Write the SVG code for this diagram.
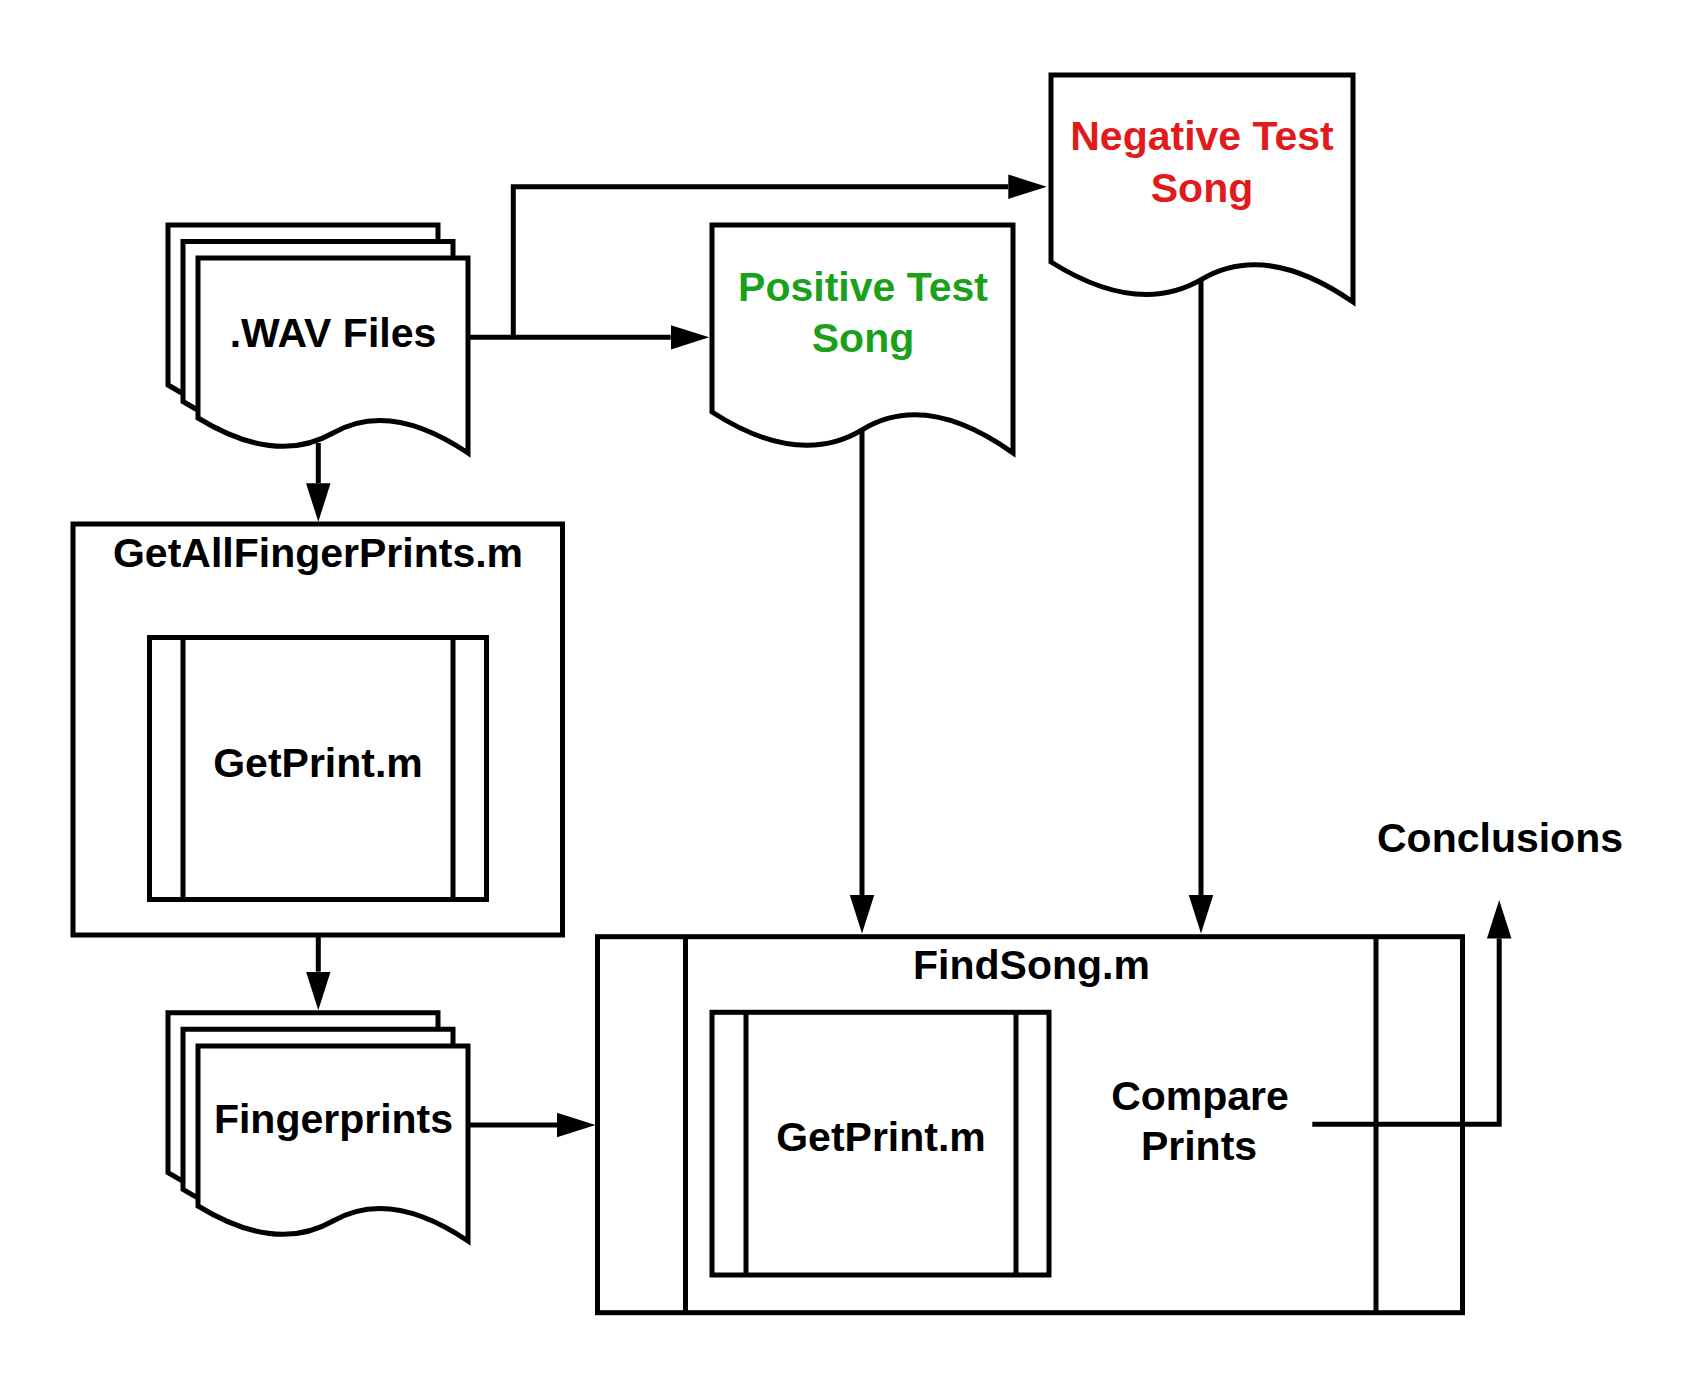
<svg xmlns="http://www.w3.org/2000/svg" width="1688" height="1388" viewBox="0 0 1688 1388">
<style>
.s{fill:#fff;stroke:#000;stroke-width:5;stroke-linejoin:miter}
.l{fill:none;stroke:#000;stroke-width:5}
.c{fill:none;stroke:#000;stroke-width:5;marker-end:url(#ah)}
text{font-family:"Liberation Sans",Arial,sans-serif;font-weight:bold;font-size:41px;text-anchor:middle;fill:#000}
</style>
<defs>
<marker id="ah" markerUnits="userSpaceOnUse" markerWidth="39" markerHeight="25" refX="0" refY="12.25" orient="auto" viewBox="0 0 39 24.5">
<path d="M0,0 L38.5,12.25 L0,24.5 Z" fill="#000"/>
</marker>
<path id="doc" d="M0,0 H270 V195 Q192,142.2 135,175 T0,160 Z"/>
</defs>
<rect width="1688" height="1388" fill="#fff"/>

<g id="wav-files">
<use href="#doc" class="s" x="168" y="225"/>
<use href="#doc" class="s" x="183" y="241.5"/>
<use href="#doc" class="s" x="198" y="258"/>
<text x="333" y="347">.WAV Files</text>
</g>

<g id="positive-test-song">
<path class="s" d="M712,225 H1013 V453 Q926,391.1 862.5,429.6 T712,412 Z"/>
<text x="863" y="301" fill="#1BA01B" style="fill:#1BA01B">Positive Test</text>
<text x="863" y="351.5" style="fill:#1BA01B">Song</text>
</g>

<g id="negative-test-song">
<path class="s" d="M1051,75 H1353 V302 Q1265.7,241.6 1202,279.2 T1051,262 Z"/>
<text x="1202" y="150" style="fill:#E01B1B">Negative Test</text>
<text x="1202" y="201.5" style="fill:#E01B1B">Song</text>
</g>

<g id="getallfingerprints">
<rect class="s" x="73" y="524" width="489.5" height="411"/>
<text x="318" y="566.7">GetAllFingerPrints.m</text>
</g>

<g id="getprint-1">
<rect class="s" x="149.5" y="637.5" width="337" height="262"/>
<line class="l" x1="183" y1="637.5" x2="183" y2="899.5"/>
<line class="l" x1="453" y1="637.5" x2="453" y2="899.5"/>
<text x="318" y="776.7">GetPrint.m</text>
</g>

<g id="fingerprints">
<use href="#doc" class="s" x="168" y="1012.7"/>
<use href="#doc" class="s" x="183" y="1029.3"/>
<use href="#doc" class="s" x="198" y="1046"/>
<text x="333.5" y="1133.3">Fingerprints</text>
</g>

<g id="findsong">
<rect class="s" x="597.5" y="936.7" width="865" height="376"/>
<line class="l" x1="685.5" y1="936.7" x2="685.5" y2="1312.7"/>
<line class="l" x1="1376" y1="936.7" x2="1376" y2="1312.7"/>
<text x="1031.5" y="979.3">FindSong.m</text>
</g>

<g id="getprint-2">
<rect class="s" x="712" y="1012.3" width="337" height="262.7"/>
<line class="l" x1="746" y1="1012.3" x2="746" y2="1275"/>
<line class="l" x1="1016" y1="1012.3" x2="1016" y2="1275"/>
<text x="881" y="1151">GetPrint.m</text>
</g>

<g id="compare-prints">
<text x="1200" y="1110">Compare</text>
<text x="1199" y="1160">Prints</text>
</g>

<g id="conclusions">
<text x="1500" y="851.5">Conclusions</text>
</g>

<g id="connectors">
<path class="c" d="M468,337.3 H670.7"/>
<path class="c" d="M513.3,337.3 V186.7 H1008.3"/>
<path class="c" d="M318.3,443 V483.3"/>
<path class="c" d="M318.3,935 V971.7"/>
<path class="c" d="M468,1125 H557"/>
<path class="c" d="M862,430 V895"/>
<path class="c" d="M1201,279 V895"/>
<path class="c" d="M1312.3,1124.3 H1499.2 V938.5"/>
</g>
</svg>
